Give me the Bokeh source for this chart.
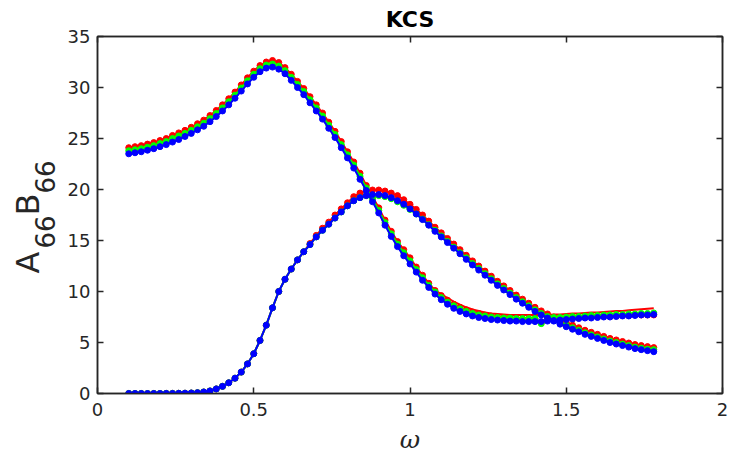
import math
from bokeh.plotting import figure
from bokeh.layouts import row
from bokeh.models import LinearAxis, FixedTicker, CustomLabelingPolicy
from bokeh.core.properties import value
from bokeh.embed import file_html
from bokeh.resources import INLINE

omega = [0.10, 0.12, 0.14, 0.16, 0.18, 0.20, 0.22, 0.24, 0.26, 0.28,
         0.30, 0.32, 0.34, 0.36, 0.38, 0.40, 0.42, 0.44, 0.46, 0.48,
         0.50, 0.52, 0.54, 0.56, 0.58, 0.60, 0.62, 0.64, 0.66, 0.68,
         0.70, 0.72, 0.74, 0.76, 0.78, 0.80, 0.82, 0.84, 0.86, 0.88,
         0.90, 0.92, 0.94, 0.96, 0.98, 1.00, 1.02, 1.04, 1.06, 1.08,
         1.10, 1.12, 1.14, 1.16, 1.18, 1.20, 1.22, 1.24, 1.26, 1.28,
         1.30, 1.32, 1.34, 1.36, 1.38, 1.40, 1.42, 1.44, 1.46, 1.48,
         1.50, 1.52, 1.54, 1.56, 1.58, 1.60, 1.62, 1.64, 1.66, 1.68,
         1.70, 1.72, 1.74, 1.76, 1.78]

A66_red = [24.1, 24.2, 24.3, 24.45, 24.6, 24.8, 25.0, 25.3, 25.55, 25.8,
           26.1, 26.45, 26.8, 27.25, 27.75, 28.3, 28.9, 29.55, 30.25, 30.95,
           31.6, 32.15, 32.5, 32.65, 32.45, 31.95, 31.3, 30.6, 29.9, 29.1,
           28.3, 27.5, 26.6, 25.7, 24.7, 23.7, 22.7, 21.6, 20.4, 19.3,
           18.2, 17.0, 15.9, 14.9, 14.1, 13.3, 12.4, 11.6, 10.8, 10.1,
           9.6, 9.15, 8.75, 8.45, 8.2, 8.0, 7.85, 7.7, 7.6, 7.5,
           7.45, 7.4, 7.35, 7.3, 7.3, 7.3, 6.95, 7.3, 7.35, 7.4,
           7.4, 7.45, 7.5, 7.5, 7.55, 7.55, 7.6, 7.6, 7.6, 7.65,
           7.65, 7.7, 7.7, 7.7, 7.7]

A66_red_line = [24.1, 24.2, 24.3, 24.45, 24.6, 24.8, 25.0, 25.3, 25.55, 25.8,
                26.1, 26.45, 26.8, 27.25, 27.75, 28.3, 28.9, 29.55, 30.25, 30.95,
                31.6, 32.15, 32.5, 32.65, 32.45, 31.95, 31.3, 30.6, 29.9, 29.1,
                28.3, 27.5, 26.6, 25.7, 24.7, 23.7, 22.7, 21.6, 20.4, 19.3,
                18.2, 17.0, 15.9, 14.9, 14.1, 13.3, 12.4, 11.6, 10.8, 10.1,
                9.75, 9.35, 9.0, 8.7, 8.45, 8.25, 8.1, 7.95, 7.85, 7.8,
                7.75, 7.7, 7.7, 7.7, 7.7, 7.7, 7.7, 7.7, 7.75, 7.75,
                7.8, 7.85, 7.85, 7.9, 7.95, 7.95, 8.0, 8.05, 8.1, 8.1,
                8.15, 8.2, 8.25, 8.3, 8.35]

A66_green = [23.8, 23.9, 24.0, 24.15, 24.3, 24.5, 24.7, 25.0, 25.25, 25.5,
             25.8, 26.15, 26.5, 26.95, 27.45, 28.0, 28.6, 29.25, 29.95, 30.65,
             31.3, 31.85, 32.2, 32.3, 32.1, 31.65, 31.0, 30.3, 29.6, 28.8,
             28.0, 27.2, 26.3, 25.4, 24.4, 23.4, 22.4, 21.3, 20.15, 19.05,
             17.95, 16.75, 15.65, 14.65, 13.8, 13.0, 12.15, 11.35, 10.6, 9.95,
             9.4, 8.95, 8.6, 8.3, 8.05, 7.85, 7.7, 7.6, 7.5, 7.45,
             7.4, 7.4, 7.35, 7.35, 7.35, 7.35, 6.85, 7.4, 7.45, 7.45,
             7.5, 7.55, 7.55, 7.6, 7.65, 7.65, 7.7, 7.7, 7.75, 7.75,
             7.8, 7.8, 7.85, 7.85, 7.9]

A66_blue = [23.5, 23.6, 23.7, 23.85, 24.0, 24.2, 24.4, 24.65, 24.9, 25.2,
            25.5, 25.85, 26.2, 26.65, 27.15, 27.7, 28.3, 28.95, 29.65, 30.35,
            31.0, 31.55, 31.9, 32.0, 31.8, 31.35, 30.7, 30.0, 29.3, 28.5,
            27.7, 26.9, 26.0, 25.1, 24.1, 23.1, 22.1, 21.0, 19.9, 18.8,
            17.7, 16.5, 15.4, 14.4, 13.5, 12.7, 11.9, 11.1, 10.4, 9.75,
            9.2, 8.75, 8.35, 8.05, 7.8, 7.6, 7.45, 7.35, 7.25, 7.2,
            7.15, 7.1, 7.1, 7.05, 7.05, 7.05, 7.05, 7.1, 7.15, 7.2,
            7.25, 7.3, 7.35, 7.4, 7.4, 7.45, 7.5, 7.5, 7.55, 7.6,
            7.6, 7.65, 7.7, 7.7, 7.75]

B66_red = [0.0, 0.0, 0.0, 0.0, 0.0, 0.0, 0.01, 0.01, 0.02, 0.03,
           0.05, 0.08, 0.15, 0.25, 0.45, 0.7, 1.05, 1.5, 2.1, 2.9,
           3.9, 5.2, 6.7, 8.4, 10.0, 11.2, 12.2, 13.1, 13.9, 14.7,
           15.5, 16.2, 16.8, 17.5, 18.1, 18.7, 19.3, 19.65, 19.85, 19.95,
           19.95, 19.85, 19.65, 19.4, 19.0, 18.55, 18.05, 17.5, 16.9, 16.3,
           15.75, 15.2, 14.65, 14.1, 13.55, 13.0, 12.5, 12.0, 11.5, 11.0,
           10.55, 10.1, 9.65, 9.25, 8.85, 8.45, 8.1, 7.8, 7.5, 7.2,
           6.95, 6.7, 6.45, 6.2, 6.0, 5.8, 5.6, 5.4, 5.25, 5.1,
           4.95, 4.8, 4.7, 4.6, 4.5]

B66_green = [0.0, 0.0, 0.0, 0.0, 0.0, 0.0, 0.01, 0.01, 0.02, 0.03,
             0.05, 0.08, 0.15, 0.25, 0.45, 0.7, 1.05, 1.5, 2.1, 2.9,
             3.9, 5.2, 6.7, 8.4, 10.0, 11.2, 12.2, 13.1, 13.9, 14.6,
             15.35, 16.0, 16.6, 17.2, 17.8, 18.4, 18.9, 19.2, 19.4, 19.4,
             19.4, 19.3, 19.1, 18.8, 18.45, 18.05, 17.6, 17.1, 16.55, 16.0,
             15.45, 14.9, 14.35, 13.8, 13.3, 12.75, 12.25, 11.75, 11.25, 10.75,
             10.3, 9.85, 9.4, 9.0, 8.6, 8.2, 7.85, 7.55, 7.25, 6.95,
             6.7, 6.45, 6.2, 5.95, 5.75, 5.55, 5.35, 5.15, 5.0, 4.85,
             4.7, 4.55, 4.45, 4.35, 4.3]

B66_blue = [0.0, 0.0, 0.0, 0.0, 0.0, 0.0, 0.01, 0.01, 0.02, 0.03,
            0.05, 0.08, 0.15, 0.25, 0.45, 0.7, 1.05, 1.5, 2.1, 2.9,
            3.9, 5.2, 6.7, 8.4, 10.0, 11.2, 12.2, 13.1, 13.9, 14.6,
            15.35, 16.0, 16.6, 17.2, 17.8, 18.4, 18.9, 19.2, 19.4, 19.5,
            19.5, 19.4, 19.2, 18.9, 18.55, 18.1, 17.6, 17.05, 16.5, 15.9,
            15.35, 14.8, 14.25, 13.7, 13.15, 12.6, 12.1, 11.6, 11.1, 10.6,
            10.15, 9.7, 9.25, 8.85, 8.45, 8.05, 7.7, 7.4, 7.1, 6.8,
            6.55, 6.3, 6.05, 5.8, 5.6, 5.4, 5.2, 5.0, 4.85, 4.7,
            4.55, 4.4, 4.3, 4.2, 4.1]

x_ticks = [0, 0.5, 1, 1.5, 2]
x_tick_labels = {0: "0", 0.5: "0.5", 1: "1", 1.5: "1.5", 2: "2"}
y_ticks = [0, 5, 10, 15, 20, 25, 30, 35]
title_text = "KCS"
x_label = "ω"
y_label_parts = ["A", "66", "B", "66"]

AX = "#262626"
FONT = "DejaVu Sans"
H = 463
TOP, BOTTOM = 36, 70

# ---------- main plot ----------
p = figure(width=670, height=H, x_range=(0, 2), y_range=(0, 35),
           output_backend="svg", toolbar_location=None,
           x_axis_location=None, y_axis_location=None,
           min_border_left=37, min_border_right=8,
           min_border_top=TOP, min_border_bottom=BOTTOM)
p.background_fill_color = "white"
p.border_fill_color = "white"
p.outline_line_color = AX
p.outline_line_width = 1.5
p.xgrid.visible = False
p.ygrid.visible = False

p.title.text = title_text
p.title.align = "center"
p.title.text_font = FONT
p.title.text_font_size = "22px"
p.title.text_font_style = "bold"
p.title.text_color = "black"
p.title.offset = 0
p.title.standoff = 9

no_labels = CustomLabelingPolicy(code="for (const i of Array.from(indices)) { indices.unset(i) } return indices")


def style_axis(ax, show_labels):
    ax.axis_line_color = AX
    ax.axis_line_width = 1.5
    ax.major_tick_line_color = AX
    ax.major_tick_line_width = 1.5
    ax.major_tick_in = 6
    ax.major_tick_out = 0
    ax.minor_tick_line_color = None
    ax.major_label_text_font = FONT
    ax.major_label_text_color = AX
    if show_labels:
        ax.major_label_text_font_size = "18px"
        ax.major_label_standoff = 7
    else:
        ax.major_label_text_font_size = "0px"
        ax.major_label_standoff = 0
        ax.major_label_policy = no_labels


bx = LinearAxis(ticker=FixedTicker(ticks=x_ticks), major_label_overrides=x_tick_labels)
style_axis(bx, True)
bx.major_label_standoff = 9
bx.axis_label = x_label
bx.axis_label_text_font = "DejaVu Serif"
bx.axis_label_text_font_style = "italic"
bx.axis_label_text_font_size = "25px"
bx.axis_label_text_color = AX
bx.axis_label_standoff = 6
p.add_layout(bx, "below")

ly = LinearAxis(ticker=FixedTicker(ticks=y_ticks))
style_axis(ly, True)
p.add_layout(ly, "left")

tx = LinearAxis(ticker=FixedTicker(ticks=x_ticks))
style_axis(tx, False)
p.add_layout(tx, "above")

ry = LinearAxis(ticker=FixedTicker(ticks=y_ticks))
style_axis(ry, False)
p.add_layout(ry, "right")

RED, GREEN, BLUE = "#ff0000", "#00ff00", "#0000ff"
MS = 6
LW = 2

p.line(omega, A66_red_line, color=RED, line_width=LW)
p.scatter(omega, A66_red, size=MS, color=RED)
p.line(omega, B66_red, color=RED, line_width=LW)
p.scatter(omega, B66_red, size=MS, color=RED)

p.line(omega, A66_green, color=GREEN, line_width=LW)
p.scatter(omega, A66_green, size=MS, color=GREEN)
p.line(omega, B66_green, color=GREEN, line_width=LW)
p.scatter(omega, B66_green, size=MS, color=GREEN)

p.line(omega, A66_blue, color=BLUE, line_width=LW)
p.scatter(omega, A66_blue, size=MS, color=BLUE)
p.line(omega, B66_blue, color=BLUE, line_width=LW)
p.scatter(omega, B66_blue, size=MS, color=BLUE)

# ---------- y-axis label panel (A_66 B_66, rotated) ----------
LW_PANEL = 60
FH = H - TOP - BOTTOM
q = figure(width=LW_PANEL, height=H, x_range=(0, LW_PANEL), y_range=(0, FH),
           output_backend="svg", toolbar_location=None, title=None,
           x_axis_location=None, y_axis_location=None,
           min_border_left=0, min_border_right=0,
           min_border_top=TOP, min_border_bottom=BOTTOM)
q.outline_line_color = None
q.xgrid.visible = False
q.ygrid.visible = False
q.background_fill_color = "white"
q.border_fill_color = "white"

q.text(x=[27, 27], y=[120, 178], text=[y_label_parts[0], y_label_parts[2]],
       angle=math.pi / 2, text_font=value(FONT), text_font_size="32px",
       text_color=AX, text_align="left", text_baseline="alphabetic")
q.text(x=[44, 44], y=[145, 200], text=[y_label_parts[1], y_label_parts[3]],
       angle=math.pi / 2, text_font=value(FONT), text_font_size="26px",
       text_color=AX, text_align="left", text_baseline="alphabetic")

layout = row(q, p)
open("out.html", "w").write(file_html(layout, INLINE))
